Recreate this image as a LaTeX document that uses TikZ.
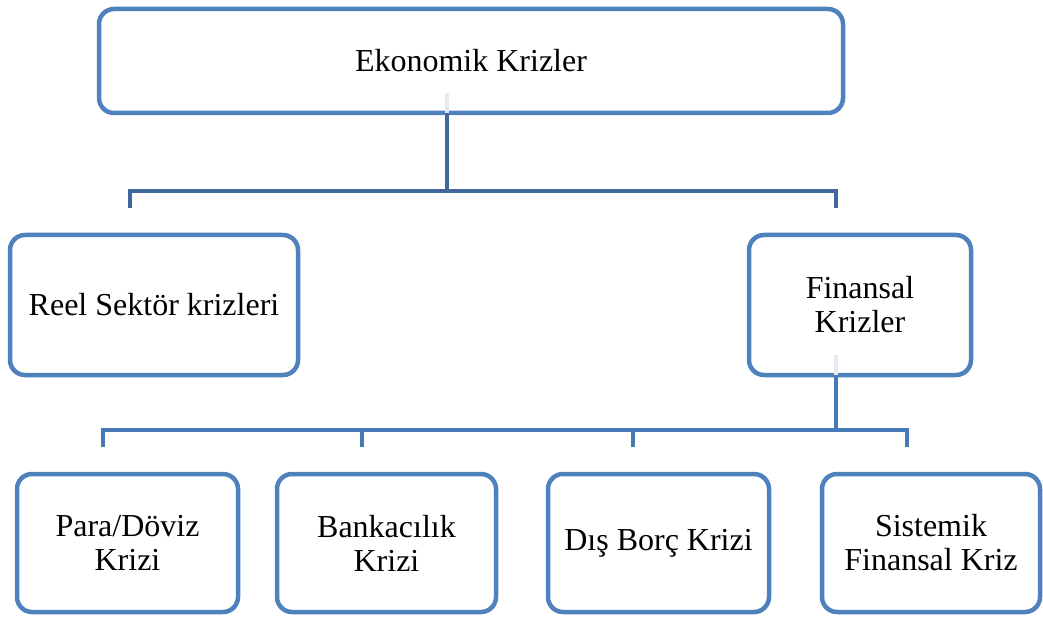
\documentclass[tikz,border=0pt]{standalone}
\usepackage{fontspec}
\setmainfont{Liberation Serif}
\begin{document}
\begin{tikzpicture}[x=1pt,y=-1pt,
  box/.style={draw=boxblue, line width=4.5pt, rounded corners=15pt, fill=white,
    align=center, inner sep=0pt, font=\fontsize{32}{34}\selectfont},
  topcon/.style={draw=conblue, line width=4pt},
  lowcon/.style={draw=lowblue, line width=4pt}]
\definecolor{boxblue}{HTML}{4F81BD}
\definecolor{conblue}{HTML}{41689C}
\definecolor{lowblue}{HTML}{4679B5}
\definecolor{ghost}{HTML}{E6EAF2}
\useasboundingbox (0,0) rectangle (1043,617);
\fill[white] (0,0) rectangle (1043,617);
% nodes
\node[box, minimum width=744pt, minimum height=104pt] (eko) at (471,61) {Ekonomik Krizler};
\node[box, minimum width=288pt, minimum height=140pt] (reel) at (154,305) {Reel Sektör krizleri};
\node[box, minimum width=222pt, minimum height=140pt] (fin) at (860,305) {Finansal\\Krizler};
\node[box, minimum width=221pt, minimum height=138pt] (para) at (127.5,543) {Para/Döviz\\Krizi};
\node[box, minimum width=219pt, minimum height=138pt] (bank) at (386.5,543) {Bankacılık\\Krizi};
\node[box, minimum width=221pt, minimum height=138pt] (dis) at (658.5,543) {Dış Borç Krizi};
\node[box, minimum width=218pt, minimum height=138pt] (sis) at (931,543) {Sistemik\\Finansal Kriz};
% coordinates
\coordinate (ekoS) at (447,113);
\coordinate (ekoG) at (447,93);
\coordinate (hubA) at (447,191);
\coordinate (reelT) at (130,208);
\coordinate (finT) at (836,208);
\coordinate (finS) at (836,375);
\coordinate (finG) at (836,355);
\coordinate (hubB) at (836,430);
\coordinate (paraT) at (103,447);
\coordinate (bankT) at (362,447);
\coordinate (disT) at (633,447);
\coordinate (sisT) at (907,447);
% ghost segments inside boxes
\draw[ghost, line width=4pt] (ekoG) -- (ekoS);
\draw[ghost, line width=4pt] (finG) -- (finS);
% top connectors
\draw[topcon] (ekoS) -- (hubA);
\draw[topcon] (reelT) |- (hubA) -| (finT);
% lower connectors
\draw[lowcon] (finS) -- (hubB);
\draw[lowcon] (paraT) |- (hubB) -| (sisT);
\draw[lowcon] (bankT) -- (bankT |- hubB);
\draw[lowcon] (disT) -- (disT |- hubB);
\end{tikzpicture}
\end{document}
